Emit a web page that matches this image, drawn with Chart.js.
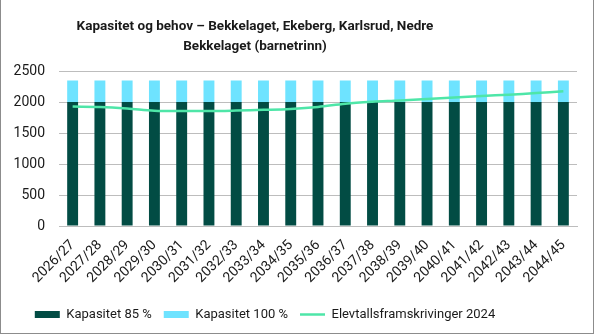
<!DOCTYPE html>
<html>
<head>
<meta charset="utf-8">
<script src="https://cdn.jsdelivr.net/npm/chart.js@4/dist/chart.umd.min.js"></script>
<style>
  html, body { margin: 0; padding: 0; background: #fff; }
  #wrap { width: 594px; height: 334px; box-sizing: border-box; border: 1px solid #8c8c8c; border-top: none; }
</style>
</head>
<body>
<div id="wrap"><canvas id="chart" width="592" height="333"></canvas></div>
<script>
/* Kapasitet og behov - stacked capacity bars + pupil projection line */

const LABELS = [
  '2026/27', '2027/28', '2028/29', '2029/30', '2030/31', '2031/32', '2032/33',
  '2033/34', '2034/35', '2035/36', '2036/37', '2037/38', '2038/39', '2039/40',
  '2040/41', '2041/42', '2042/43', '2043/44', '2044/45',
];

// 85 % capacity (dark part of the bar)
const CAP_85 = [2000, 2000, 2000, 2000, 2000, 2000, 2000, 2000, 2000, 2000,
  2000, 2000, 2000, 2000, 2000, 2000, 2000, 2000, 2000];
// extra up to 100 % capacity (light part stacked on top)
const CAP_100_EXTRA = [350, 350, 350, 350, 350, 350, 350, 350, 350, 350,
  350, 350, 350, 350, 350, 350, 350, 350, 350];
// Elevtallsframskrivinger 2024
const PROJECTION = [1928, 1922, 1898, 1862, 1856, 1856, 1864, 1875, 1890, 1922,
  1975, 2006, 2026, 2052, 2073, 2098, 2120, 2146, 2175];

const Y_TICKS = [0, 500, 1000, 1500, 2000, 2500];

const COLORS = {
  dark: '#024c44',
  light: '#6ee3ff',
  line: '#4ee6a8',
  grid: '#bdbdbd',
  text: '#1a1a1a',
};

const FONT = 'Roboto, "Liberation Sans", sans-serif';

// In the original, title and legend sit left of the page centre; nudge them after layout.
const shiftBlocks = {
  id: 'shiftBlocks',
  afterLayout(chart) {
    chart.titleBlock.left -= 80;
    chart.legend.left -= 30;
    chart.legend.right -= 30;
  },
};

new Chart(document.getElementById('chart'), {
  data: {
    labels: LABELS,
    datasets: [
      {
        type: 'line',
        label: 'Elevtallsframskrivinger 2024',
        data: PROJECTION,
        stack: 'line',
        borderColor: COLORS.line,
        backgroundColor: COLORS.line,
        borderWidth: 2.5,
        pointRadius: 0,
        tension: 0.35,
        order: 0,
      },
      {
        type: 'bar',
        label: 'Kapasitet 85 %',
        data: CAP_85,
        stack: 'cap',
        backgroundColor: COLORS.dark,
        categoryPercentage: 1,
        barPercentage: 0.4,
        order: 1,
      },
      {
        type: 'bar',
        label: 'Kapasitet 100 %',
        data: CAP_100_EXTRA,
        stack: 'cap',
        backgroundColor: COLORS.light,
        categoryPercentage: 1,
        barPercentage: 0.4,
        order: 1,
      },
    ],
  },
  plugins: [shiftBlocks],
  options: {
    responsive: false,
    animation: false,
    layout: { padding: { left: 12, right: 16, top: 4, bottom: 2 } },
    plugins: {
      title: {
        display: true,
        text: ['Kapasitet og behov – Bekkelaget, Ekeberg, Karlsrud, Nedre', 'Bekkelaget (barnetrinn)'],
        color: COLORS.text,
        font: { family: FONT, size: 13.5, weight: 'bold', lineHeight: 1.45 },
        padding: { top: 13, bottom: 15 },
      },
      legend: {
        position: 'bottom',
        labels: {
          color: COLORS.text,
          font: { family: FONT, size: 13 },
          usePointStyle: true,
          boxHeight: 7,
          pointStyleWidth: 25,
          padding: 12,
          // bars first, then the line, with matching legend markers
          generateLabels(chart) {
            const order = [1, 2, 0];
            return order.map((i) => {
              const ds = chart.data.datasets[i];
              return {
                text: ds.label,
                fillStyle: ds.backgroundColor,
                strokeStyle: ds.type === 'line' ? ds.borderColor : ds.backgroundColor,
                lineWidth: ds.type === 'line' ? 2.5 : 0,
                pointStyle: ds.type === 'line' ? 'line' : 'rect',
                fontColor: COLORS.text,
                datasetIndex: i,
                hidden: false,
              };
            });
          },
        },
      },
      tooltip: { enabled: false },
    },
    scales: {
      x: {
        stacked: true,
        grid: { display: false },
        border: { color: COLORS.grid },
        // fixed label band; let rotated labels hang under the y axis
        afterFit(axis) {
          axis.height = 70;
          axis.paddingLeft = 0;
          axis.paddingRight = 0;
        },
        ticks: {
          color: COLORS.text,
          font: { family: FONT, size: 14 },
          minRotation: 45,
          maxRotation: 45,
          autoSkip: false,
        },
      },
      y: {
        stacked: true,
        min: 0,
        max: 2500,
        afterBuildTicks(axis) { axis.ticks = Y_TICKS.map((v) => ({ value: v })); },
        afterFit(axis) { axis.width = 46; },
        grid: { color: COLORS.grid, drawTicks: false },
        border: { display: false },
        ticks: {
          color: COLORS.text,
          font: { family: FONT, size: 14 },
          padding: 14,
          callback: (v) => String(v),
        },
      },
    },
  },
});
</script>
</body>
</html>
